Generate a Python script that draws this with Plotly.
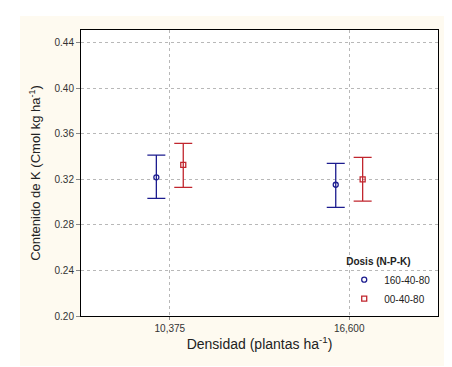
import plotly.graph_objects as go

categories = ["10,375", "16,600"]
series_names = ["160-40-80", "00-40-80"]
means_a = [0.3217, 0.3152]
upper_a = [0.3412, 0.3340]
lower_a = [0.3032, 0.2954]
means_b = [0.3327, 0.3199]
upper_b = [0.3515, 0.3392]
lower_b = [0.3129, 0.3009]
y_ticks = [0.20, 0.24, 0.28, 0.32, 0.36, 0.40, 0.44]

base_x = [1, 2]
offset = 0.075
colors = ["#1c1c8f", "#c1262e"]
symbols = ["circle-open", "square-open"]

fig = go.Figure()
for i, (name, m, up, lo) in enumerate([
    (series_names[0], means_a, upper_a, lower_a),
    (series_names[1], means_b, upper_b, lower_b),
]):
    sign = -1 if i == 0 else 1
    xs = [b + sign * offset for b in base_x]
    fig.add_trace(go.Scatter(
        x=xs, y=m, mode="markers", name=name,
        marker=dict(symbol=symbols[i], size=5, color=colors[i], line=dict(width=1.3, color=colors[i])),
        error_y=dict(type="data", symmetric=False,
                     array=[u - v for u, v in zip(up, m)],
                     arrayminus=[v - l for v, l in zip(m, lo)],
                     color=colors[i], thickness=1.3, width=9),
    ))

# white outer frame around the cream panel
white = dict(fillcolor="white", line=dict(width=0), layer="above", xref="paper", yref="paper", type="rect")
fig.add_shape(x0=-0.3, x1=-0.171, y0=-0.3, y1=1.2, **white)
fig.add_shape(x0=1.042, x1=1.2, y0=-0.3, y1=1.2, **white)
fig.add_shape(x0=-0.3, x1=1.2, y0=1.049, y1=1.2, **white)
fig.add_shape(x0=-0.3, x1=1.2, y0=-0.3, y1=-0.175, **white)

fig.update_layout(
    width=452, height=367,
    margin=dict(l=73, r=22, t=22, b=59),
    paper_bgcolor="#fefaf0", plot_bgcolor="white",
    font=dict(family="Liberation Sans, Arial, sans-serif", color="#333333", size=10),
    showlegend=True,
    legend=dict(
        title=dict(text="<b>Dosis (N-P-K)</b>", font=dict(size=10, color="#222222")),
        x=0.995, y=0.01, xanchor="right", yanchor="bottom",
        bgcolor="rgba(0,0,0,0)", font=dict(size=10, color="#222222"),
        tracegroupgap=0, itemwidth=30,
    ),
    xaxis=dict(
        tickmode="array", tickvals=base_x, ticktext=categories,
        range=[0.505, 2.495],
        showgrid=True, gridcolor="#b8b8b8", griddash="dot", gridwidth=1,
        showline=True, linecolor="black", linewidth=1, mirror=True,
        ticks="outside", ticklen=3, tickcolor="#888888",
        zeroline=False,
        title=dict(text="Densidad (plantas ha<sup>-1</sup>)", font=dict(size=14, color="#222222"), standoff=6),
    ),
    yaxis=dict(
        tickmode="array", tickvals=y_ticks, ticktext=[f"{v:.2f}" for v in y_ticks],
        range=[0.20, 0.451],
        showgrid=True, gridcolor="#b8b8b8", griddash="dot", gridwidth=1,
        showline=True, linecolor="black", linewidth=1, mirror=True,
        ticks="outside", ticklen=4, tickcolor="#888888",
        zeroline=False,
        title=dict(text="Contenido de K (Cmol kg ha<sup>-1</sup>)", font=dict(size=13, color="#222222"), standoff=10),
    ),
)

fig.write_html("out.html")
